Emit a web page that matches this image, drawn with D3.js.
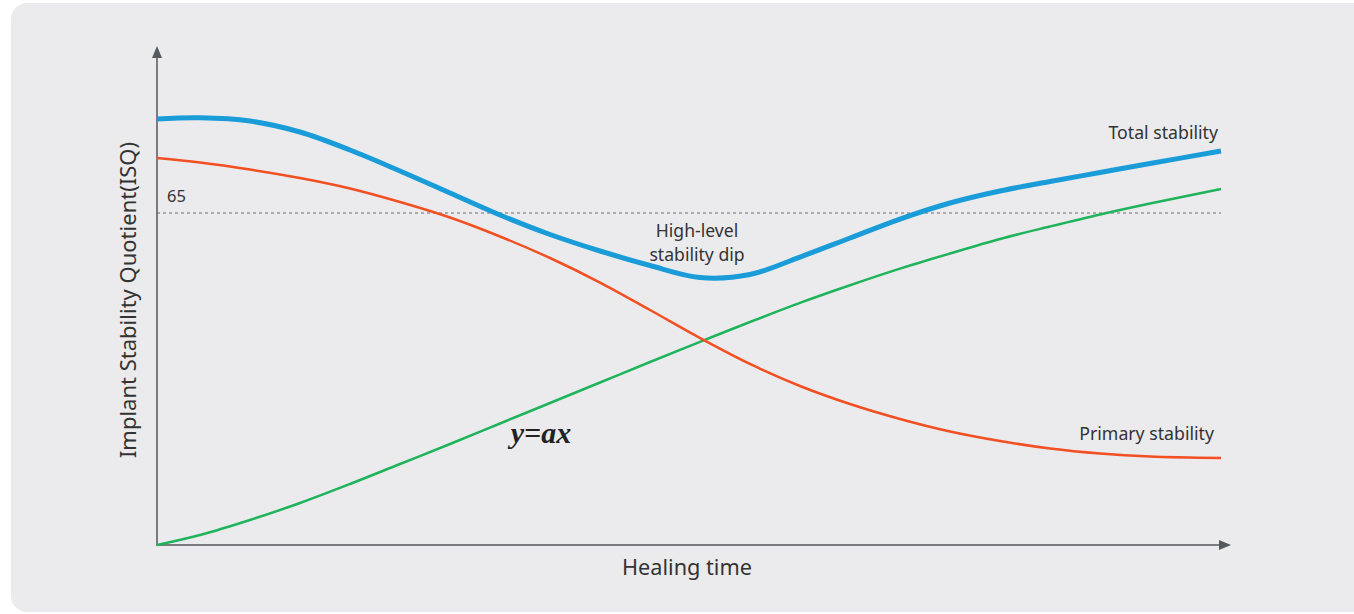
<!DOCTYPE html>
<html><head><meta charset="utf-8">
<script src="https://cdn.jsdelivr.net/npm/d3@7"></script>
<style>html,body{margin:0;padding:0;background:#fff;}svg{display:block;}</style>
</head><body>
<script>
// Healing time (0-100) positions and ISQ-like values
const timeX = [0, 4.04, 8.74, 13.44, 18.14, 22.84, 27.54, 32.24, 36.94, 41.64, 46.34, 51.03, 55.73, 60.43, 65.13, 69.83, 74.53, 79.23, 83.93, 88.63, 93.33, 100];
const totalY = [83.40, 83.64, 83.01, 80.86, 77.33, 73.22, 68.91, 64.61, 60.79, 57.56, 54.72, 52.37, 52.96, 56.38, 60.10, 63.82, 66.96, 69.31, 71.17, 72.93, 74.69, 77.14];
const primaryY = [75.77, 74.89, 73.51, 71.85, 69.80, 67.15, 64.12, 60.40, 56.19, 51.39, 46.01, 40.53, 35.44, 31.13, 27.60, 24.67, 22.22, 20.36, 18.89, 17.91, 17.33, 17.03];
const growthY = [0, 1.96, 4.90, 8.22, 11.94, 15.86, 19.77, 23.79, 27.80, 31.81, 35.83, 39.78, 43.66, 47.40, 50.85, 54.10, 57.07, 59.91, 62.36, 64.71, 66.86, 69.70];
const threshold = 65;
const labels = {x: "Healing time", y: "Implant Stability Quotient(ISQ)", total: "Total stability", primary: "Primary stability", dip: ["High-level", "stability dip"], eq: "y=ax"};

const W = 1354, H = 614;
const svg = d3.select("body").append("svg").attr("width", W).attr("height", H);
const font = "'Noto Sans', sans-serif";

svg.append("rect").attr("x", 11).attr("y", 3).attr("width", W + 20).attr("height", 609)
  .attr("rx", 16).attr("fill", "#ebebed");

const x = d3.scaleLinear().domain([0, 100]).range([157, 1221]);
const y = d3.scaleLinear().domain([0, 65]).range([545, 213]);

const defs = svg.append("defs");
defs.append("marker").attr("id", "arr").attr("viewBox", "0 0 12 10").attr("refX", 0).attr("refY", 5)
  .attr("markerWidth", 12).attr("markerHeight", 10).attr("markerUnits", "userSpaceOnUse").attr("orient", "auto")
  .append("path").attr("d", "M0,0 L12,5 L0,10 Z").attr("fill", "#555a5e");

// axes
svg.append("line").attr("x1", x(0)).attr("y1", y(0)).attr("x2", x(0)).attr("y2", 58)
  .attr("stroke", "#7a7b7e").attr("stroke-width", 2).attr("marker-end", "url(#arr)");
svg.append("line").attr("x1", x(0) - 1).attr("y1", y(0)).attr("x2", 1219).attr("y2", y(0))
  .attr("stroke", "#7a7b7e").attr("stroke-width", 2).attr("marker-end", "url(#arr)");

// threshold
svg.append("line").attr("x1", x(0)).attr("x2", x(100)).attr("y1", y(threshold)).attr("y2", y(threshold))
  .attr("stroke", "#6a6b6e").attr("stroke-width", 1).attr("stroke-dasharray", "3,3");
svg.append("text").attr("x", x(0) + 10).attr("y", y(threshold) - 11).text(String(threshold))
  .attr("font-family", font).attr("font-size", 16.5).attr("fill", "#333");

const line = d3.line().x(d => x(d[0])).y(d => y(d[1])).curve(d3.curveCatmullRom.alpha(0.5));
const draw = (ys, color, w) => svg.append("path").datum(timeX.map((v, i) => [v, ys[i]]))
  .attr("d", line).attr("fill", "none").attr("stroke", color).attr("stroke-width", w);

draw(growthY, "#1fb45c", 2.5);
draw(primaryY, "#f24f22", 2.5);
draw(totalY, "#1a9cd8", 5);

// labels
const txt = (tx, ty, s, anchor, size) => svg.append("text").attr("x", tx).attr("y", ty).text(s)
  .attr("text-anchor", anchor).attr("font-family", font).attr("font-size", size).attr("fill", "#333");
txt(1218, 139, labels.total, "end", 17.7);
txt(1214, 440, labels.primary, "end", 17.7);
txt(697, 237, labels.dip[0], "middle", 17.6);
txt(697, 261, labels.dip[1], "middle", 17.6);
txt(687, 575, labels.x, "middle", 21.7);
svg.append("text").attr("transform", "translate(136,300) rotate(-90)").attr("text-anchor", "middle")
  .attr("font-family", font).attr("font-size", 22).attr("fill", "#333").text(labels.y);
svg.append("text").attr("x", 541).attr("y", 443).attr("text-anchor", "middle")
  .attr("font-family", "'Liberation Serif', serif").attr("font-style", "italic").attr("font-weight", "bold")
  .attr("font-size", 30).attr("fill", "#222").text(labels.eq);
</script>
</body></html>
